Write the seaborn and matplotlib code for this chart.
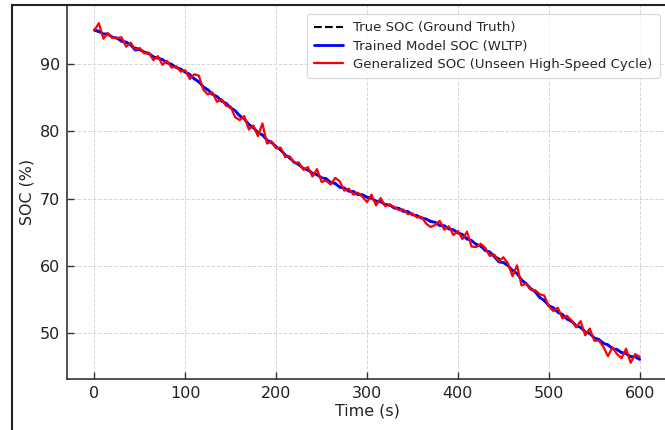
import numpy as np
import pandas as pd
import seaborn as sns
import matplotlib
matplotlib.use("Agg")
import matplotlib.pyplot as plt
from matplotlib.patches import Rectangle

time_s = list(range(0, 601, 5))

true_soc = [95.0, 94.8, 94.6, 94.4, 94.1, 93.8, 93.5, 93.2, 92.9, 92.5,
            92.1, 91.8, 91.5, 91.2, 90.9, 90.6, 90.3, 89.9, 89.6, 89.2,
            88.9, 88.4, 87.9, 87.3, 86.7, 86.1, 85.6, 85.1, 84.6, 84.1,
            83.6, 83.0, 82.4, 81.8, 81.1, 80.5, 79.9, 79.4, 78.8, 78.3,
            77.8, 77.2, 76.6, 76.0, 75.5, 75.0, 74.6, 74.2, 73.9, 73.5,
            73.2, 72.9, 72.5, 72.2, 71.8, 71.5, 71.2, 71.0, 70.7, 70.5,
            70.3, 70.0, 69.7, 69.5, 69.2, 69.0, 68.7, 68.5, 68.2, 68.0,
            67.7, 67.4, 67.2, 66.9, 66.7, 66.4, 66.1, 65.9, 65.6, 65.3,
            65.0, 64.6, 64.1, 63.7, 63.3, 62.9, 62.4, 62.0, 61.5, 61.1,
            60.6, 60.0, 59.4, 58.8, 58.0, 57.3, 56.7, 56.1, 55.4, 54.8,
            54.2, 53.7, 53.2, 52.7, 52.2, 51.7, 51.2, 50.8, 50.3, 49.9,
            49.4, 49.0, 48.6, 48.2, 47.8, 47.5, 47.2, 46.9, 46.6, 46.4,
            46.2]

trained_soc = [95.1, 94.9, 94.5, 94.5, 94.0, 93.9, 93.4, 93.3, 92.9, 92.1,
               92.2, 91.8, 91.6, 91.1, 90.9, 90.7, 90.2, 90.0, 89.5, 89.3,
               88.8, 88.5, 87.8, 87.4, 86.6, 86.2, 85.5, 85.2, 84.5, 84.2,
               83.5, 83.1, 82.3, 81.9, 81.0, 80.6, 79.8, 79.5, 78.7, 78.4,
               77.7, 77.3, 76.5, 76.1, 75.4, 75.1, 74.5, 74.3, 73.8, 73.6,
               73.1, 73.0, 72.4, 72.3, 71.7, 71.6, 71.1, 71.1, 70.6, 70.6,
               70.2, 70.1, 69.6, 69.6, 69.1, 69.1, 68.6, 68.6, 68.1, 68.1,
               67.6, 67.5, 67.1, 67.0, 66.6, 66.5, 66.0, 66.0, 65.5, 65.4,
               64.9, 64.7, 64.0, 63.8, 63.2, 63.0, 62.3, 62.1, 61.4, 60.6,
               60.5, 60.1, 59.3, 58.9, 57.9, 57.4, 56.6, 56.2, 55.3, 54.9,
               54.1, 53.8, 53.1, 52.8, 52.1, 51.8, 51.1, 50.9, 50.2, 50.0,
               49.3, 49.1, 48.5, 48.3, 47.7, 47.6, 47.1, 47.0, 46.5, 46.5,
               46.1]

generalized_soc = [95.0, 96.1, 93.8, 94.6, 93.9, 93.9, 94.0, 92.6, 93.2, 92.2,
                   92.4, 91.6, 91.7, 90.6, 91.2, 89.9, 90.5, 89.5, 89.7, 88.9,
                   89.1, 87.8, 88.5, 88.3, 86.2, 85.5, 85.8, 84.4, 84.8, 83.8,
                   83.7, 82.1, 81.7, 82.3, 80.3, 80.9, 79.3, 81.2, 78.2, 78.5,
                   77.5, 77.6, 76.2, 76.3, 75.3, 75.4, 74.3, 74.7, 73.3, 74.4,
                   72.5, 72.7, 72.1, 73.1, 72.6, 71.2, 71.5, 70.6, 70.9, 70.3,
                   69.5, 70.6, 69.0, 70.1, 68.9, 69.1, 68.8, 68.3, 68.4, 67.7,
                   67.8, 67.2, 67.3, 66.3, 65.8, 66.1, 66.7, 65.4, 65.9, 64.6,
                   65.2, 64.0, 65.1, 62.9, 62.8, 63.3, 62.7, 61.5, 61.7, 60.7,
                   61.3, 60.4, 58.5, 60.1, 57.1, 57.4, 56.5, 56.4, 55.8, 55.6,
                   54.0, 53.3, 53.8, 52.2, 52.6, 51.9, 50.9, 51.8, 49.7, 50.7,
                   48.9, 48.9, 48.0, 46.6, 47.9, 46.9, 46.3, 47.7, 45.6, 46.9,
                   46.5]

labels = ["True SOC (Ground Truth)", "Trained Model SOC (WLTP)",
          "Generalized SOC (Unseen High-Speed Cycle)"]

sns.set_theme(style="whitegrid")
plt.rcParams['font.family'] = ['DejaVu Sans']

fig = plt.figure(figsize=(6.65, 4.30), dpi=100)
ax = fig.add_axes([67/665, 1 - 379/430, 600/665, (379 - 5)/430])

sns.lineplot(x=time_s, y=true_soc, ax=ax, color="black", linestyle="--",
             linewidth=1.5, label=labels[0])
sns.lineplot(x=time_s, y=trained_soc, ax=ax, color="blue", linewidth=2.0,
             label=labels[1])
sns.lineplot(x=time_s, y=generalized_soc, ax=ax, color="red", linewidth=1.6,
             label=labels[2])

ax.set_xlim(-30, 630)
ax.set_ylim(43.2, 98.8)
ax.set_xticks([0, 100, 200, 300, 400, 500, 600])
ax.set_yticks([50, 60, 70, 80, 90])
ax.set_xlabel("Time (s)", fontsize=11.4, color="#222222", labelpad=2)
ax.set_ylabel("SOC (%)", fontsize=11.4, color="#222222", labelpad=4)
ax.tick_params(direction="in", length=5, width=1, labelsize=11.5,
               colors="#333333", labelcolor="#222222", left=True, bottom=True, pad=5)
ax.grid(True, linestyle="--", color="#d6d6d6", linewidth=0.7)
for s in ["left", "bottom", "top"]:
    ax.spines[s].set_color("#333333")
    ax.spines[s].set_linewidth(1.2)
ax.spines["right"].set_visible(False)

leg = ax.legend(loc="upper right", fontsize=9.5, frameon=True, handlelength=2.2,
                borderpad=0.55, labelspacing=0.4, borderaxespad=0,
                bbox_to_anchor=((660 - 67) / 600, (379 - 14) / 374))
leg.get_frame().set_edgecolor("#cccccc")
leg.get_frame().set_linewidth(0.8)

fig.add_artist(Rectangle((12/665, -0.05), 1.2, 1.05 - 5/430, transform=fig.transFigure,
                         fill=False, edgecolor="#222222", linewidth=1.5))

fig.savefig("out.png", dpi=100)
